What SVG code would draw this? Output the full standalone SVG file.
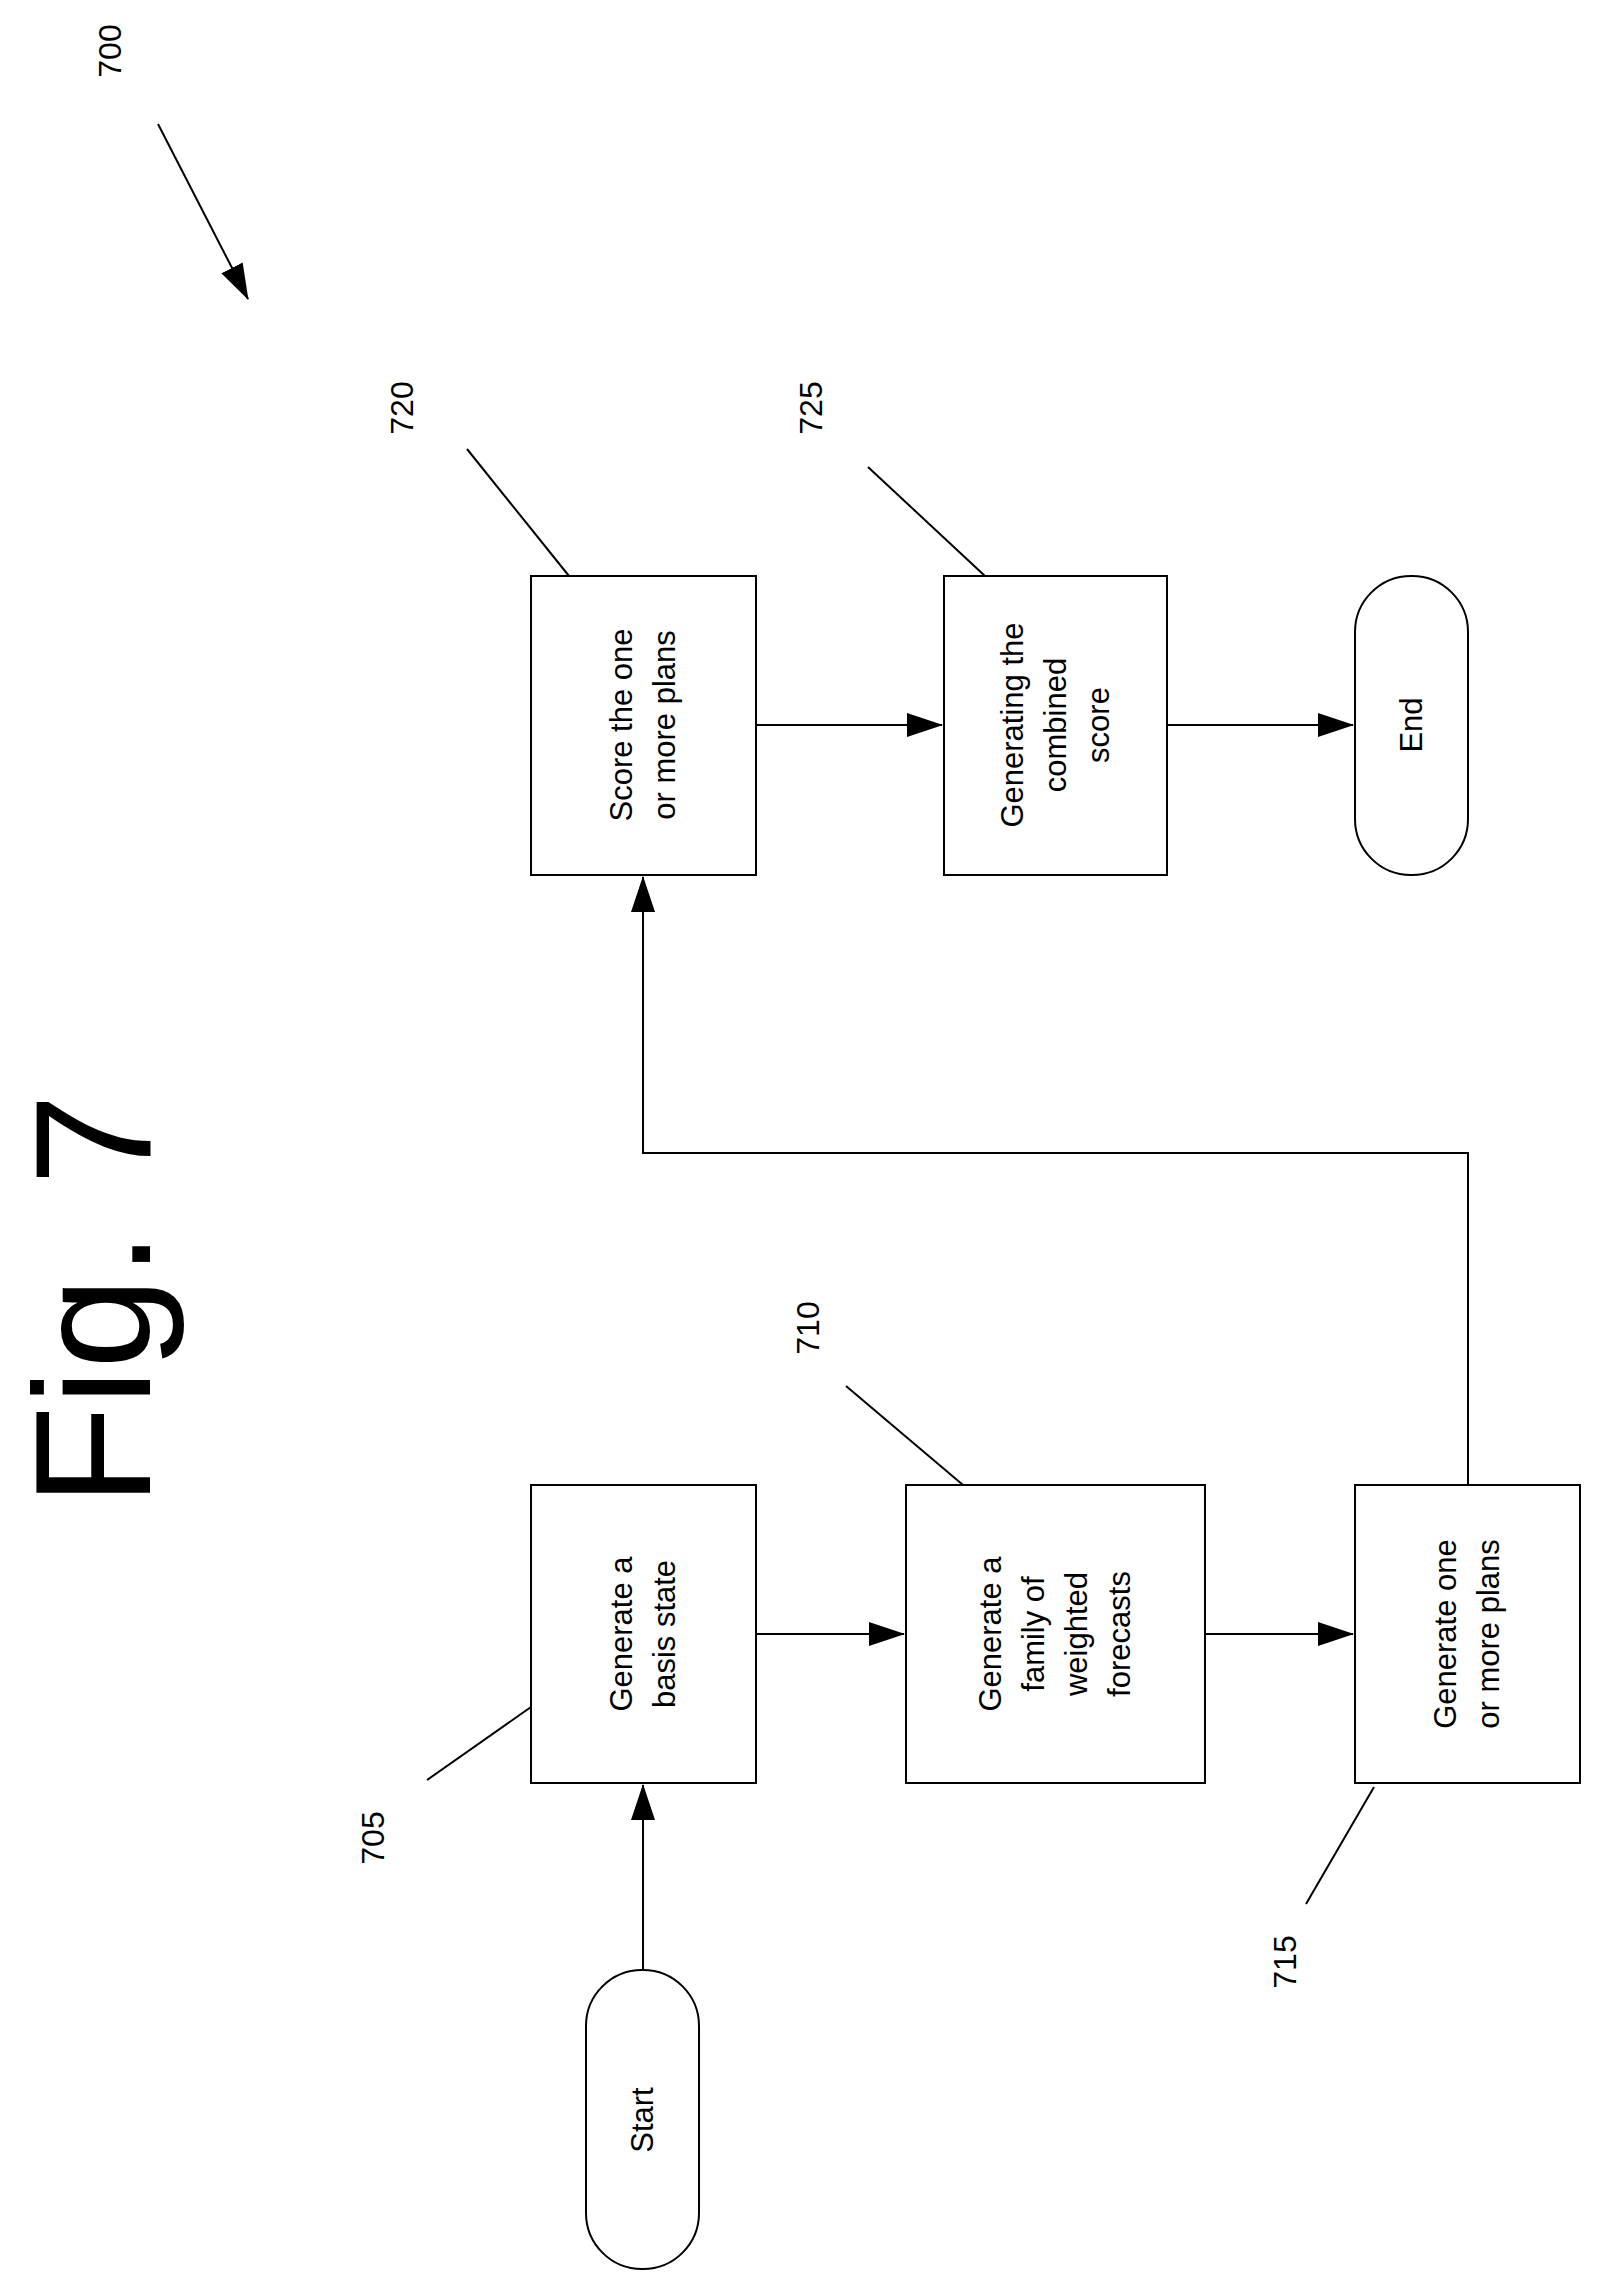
<svg xmlns="http://www.w3.org/2000/svg" width="1605" height="2292" viewBox="0 0 1605 2292">
<defs>
<style>
.b{fill:#fff;stroke:#000;stroke-width:2}
.t{font-family:"Liberation Sans",Arial,sans-serif;font-size:31px;text-anchor:middle;fill:#000}
.n{font-family:"Liberation Sans",Arial,sans-serif;font-size:32px;text-anchor:middle;fill:#000}
.l{stroke:#000;stroke-width:2;fill:none}
</style>
<marker id="a2" markerWidth="36" markerHeight="24" refX="35" refY="12" orient="auto" markerUnits="userSpaceOnUse" viewBox="0 0 36 24"><path d="M0,0L36,12L0,24z" fill="#000"/></marker>
</defs>
<rect width="1605" height="2292" fill="#fff"/>
<text transform="translate(150,1300) rotate(-90)" style="font-family:'Liberation Sans',Arial,sans-serif;font-size:165px;text-anchor:middle">Fig. 7</text>
<g id="labels">
<text class="n" transform="translate(121,51) rotate(-90)">700</text>
<text class="n" transform="translate(413,408) rotate(-90)">720</text>
<text class="n" transform="translate(822,408) rotate(-90)">725</text>
<text class="n" transform="translate(819,1328) rotate(-90)">710</text>
<text class="n" transform="translate(384,1838) rotate(-90)">705</text>
<text class="n" transform="translate(1296,1962) rotate(-90)">715</text>
</g>
<g id="connectors">
<line class="l" x1="158" y1="124" x2="248" y2="299" marker-end="url(#a2)"/>
<line class="l" x1="467" y1="449" x2="569" y2="576"/>
<line class="l" x1="868" y1="467" x2="985" y2="576"/>
<line class="l" x1="846" y1="1386" x2="963" y2="1485"/>
<line class="l" x1="427" y1="1780" x2="531" y2="1707"/>
<line class="l" x1="1306" y1="1904" x2="1374" y2="1787"/>
<line class="l" x1="643" y1="1970" x2="643" y2="1785" marker-end="url(#a2)"/>
<line class="l" x1="756" y1="1634" x2="904" y2="1634" marker-end="url(#a2)"/>
<line class="l" x1="1205" y1="1634" x2="1353" y2="1634" marker-end="url(#a2)"/>
<polyline class="l" points="1468,1485 1468,1153 643,1153 643,877" marker-end="url(#a2)"/>
<line class="l" x1="756" y1="725" x2="942" y2="725" marker-end="url(#a2)"/>
<line class="l" x1="1167" y1="725" x2="1353" y2="725" marker-end="url(#a2)"/>
</g>
<g id="start"><rect class="b" x="586" y="1970" width="113" height="299" rx="56"/><text class="t" transform="translate(653,2120) rotate(-90)">Start</text></g>
<g id="n705"><rect class="b" x="531" y="1485" width="225" height="298"/><text class="t" transform="translate(643,1634) rotate(-90)"><tspan x="0" y="-11">Generate a</tspan><tspan x="0" y="32">basis state</tspan></text></g>
<g id="n710"><rect class="b" x="906" y="1485" width="299" height="298"/><text class="t" transform="translate(1055,1634) rotate(-90)"><tspan x="0" y="-54">Generate a</tspan><tspan x="0" y="-11">family of</tspan><tspan x="0" y="32">weighted</tspan><tspan x="0" y="75">forecasts</tspan></text></g>
<g id="n715"><rect class="b" x="1355" y="1485" width="225" height="298"/><text class="t" transform="translate(1467,1634) rotate(-90)"><tspan x="0" y="-11">Generate one</tspan><tspan x="0" y="32">or more plans</tspan></text></g>
<g id="n720"><rect class="b" x="531" y="576" width="225" height="299"/><text class="t" transform="translate(643,725) rotate(-90)"><tspan x="0" y="-11">Score the one</tspan><tspan x="0" y="32">or more plans</tspan></text></g>
<g id="n725"><rect class="b" x="944" y="576" width="223" height="299"/><text class="t" transform="translate(1055,725) rotate(-90)"><tspan x="0" y="-32">Generating the</tspan><tspan x="0" y="11">combined</tspan><tspan x="0" y="54">score</tspan></text></g>
<g id="end"><rect class="b" x="1355" y="576" width="113" height="299" rx="56"/><text class="t" transform="translate(1422,725) rotate(-90)">End</text></g>
</svg>
